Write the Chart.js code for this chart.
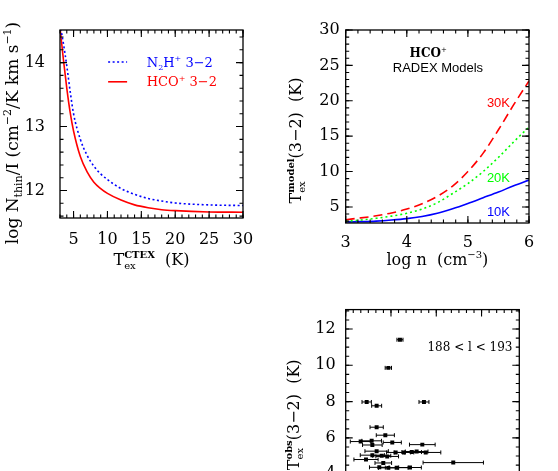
<!DOCTYPE html>
<html>
<head>
<meta charset="utf-8">
<script src="https://cdn.jsdelivr.net/npm/chart.js@4.4.1/dist/chart.umd.min.js"></script>
<style>
  html, body { margin: 0; padding: 0; background: #fff; }
  body { width: 558px; height: 471px; overflow: hidden; position: relative; }
  canvas { position: absolute; }
</style>
</head>
<body>
<canvas id="panelA" width="279" height="280" style="left:0;top:0"></canvas>
<canvas id="panelB" width="279" height="280" style="left:279px;top:0"></canvas>
<canvas id="panelC" width="279" height="250" style="left:279px;top:290px"></canvas>
<script>
// Panel A: N_thin/I against excitation temperature
const tempA = [3, 3.5, 4, 4.5, 5, 6, 7, 8, 9, 10, 12, 14, 16, 18, 20, 25, 30];
const n2hA  = [14.6, 14.3, 13.95, 13.55, 13.2, 12.8, 12.55, 12.38, 12.26, 12.17, 12.03, 11.94, 11.875, 11.835, 11.805, 11.775, 11.765];
const hcoA  = [14.55, 14.05, 13.6, 13.22, 12.93, 12.53, 12.29, 12.13, 12.03, 11.955, 11.85, 11.775, 11.73, 11.70, 11.685, 11.665, 11.66];
const xTicksA = [5, 10, 15, 20, 25, 30];
const yTicksA = [12, 13, 14];

// Panel B: RADEX model excitation temperatures
const lognB  = [3, 3.25, 3.5, 3.75, 4, 4.25, 4.5, 4.75, 5, 5.25, 5.5, 5.75, 6];
const tk30B  = [3.2, 3.45, 3.75, 4.15, 4.7, 5.45, 6.5, 7.95, 10.0, 12.6, 15.9, 19.45, 22.8];
const tk20B  = [2.97, 3.15, 3.4, 3.7, 4.1, 4.7, 5.6, 6.9, 8.3, 10.0, 12.0, 14.2, 16.3];
const tk10B  = [2.87, 2.92, 3.0, 3.15, 3.35, 3.65, 4.1, 4.75, 5.5, 6.3, 7.1, 8.0, 8.8];
const xTicksB = [3, 4, 5, 6];
const yTicksB = [5, 10, 15, 20, 25, 30];

// Panel C: observed excitation temperatures (x with error)
const obsX    = [7.19, 5.65, 2.78, 4.1, 10.37, 4.1, 5.25, 1.98, 3.44, 3.53, 6.17, 10.15, 4.1, 6.62, 7.72, 8.74, 9.4, 10.6, 3.53, 4.77, 5.5, 2.69, 4.98, 14.25, 4.45, 5.65, 6.75, 8.52];
const obsY    = [11.41, 9.86, 7.98, 7.77, 7.98, 6.59, 6.15, 5.80, 5.84, 5.61, 5.75, 5.63, 5.27, 5.2, 5.2, 5.22, 5.25, 5.2, 5.05, 5.02, 4.98, 4.81, 4.62, 4.64, 4.38, 4.35, 4.36, 4.37];
const obsXErr = [0.4, 0.42, 0.62, 0.66, 0.66, 0.88, 1.2, 1.37, 1.3, 1.3, 1.2, 1.7, 1.55, 1.2, 1.3, 1.3, 1.5, 2.0, 1.6, 1.2, 1.5, 1.6, 1.1, 4.0, 1.3, 1.3, 1.5, 1.5];
const yTicksC = [4, 6, 8, 10, 12];
const xTicksC = [0, 6, 12, 18];

const SERIF = 'DejaVu Serif';
const SANS = 'Liberation Sans';
Chart.defaults.font.family = SERIF;
Chart.defaults.color = '#000';

function toPoints(xs, ys) {
    return xs.map((x, i) => ({ x: x, y: ys[i] }));
}

// width of a piece of rich text (main text with optional sub/superscript)
function partWidth(ctx, p, size, fam) {
    ctx.font = (p.bold ? 'bold ' : '') + size + 'px ' + fam;
    let w = ctx.measureText(p.t || '').width;
    if (p.sub || p.sup) {
        const small = Math.round(size * 0.62);
        ctx.font = (p.supBold ? 'bold ' : '') + small + 'px ' + fam;
        const a = p.sup ? ctx.measureText(p.sup).width : 0;
        ctx.font = small + 'px ' + fam;
        const b = p.sub ? ctx.measureText(p.sub).width : 0;
        w += Math.max(a, b);
    }
    return w;
}

function drawRich(ctx, x0, y0, parts, size, fam, color, align, rot) {
    ctx.save();
    ctx.translate(x0, y0);
    if (rot) ctx.rotate(rot);
    ctx.fillStyle = color;
    ctx.textAlign = 'left';
    ctx.textBaseline = 'alphabetic';
    let total = 0;
    parts.forEach(p => { total += partWidth(ctx, p, size, fam); });
    let x = align === 'left' ? 0 : -total / 2;
    const base = size * 0.36;
    const small = Math.round(size * 0.62);
    parts.forEach(p => {
        ctx.font = (p.bold ? 'bold ' : '') + size + 'px ' + fam;
        ctx.fillText(p.t || '', x, base);
        const w = ctx.measureText(p.t || '').width;
        let sw = 0;
        if (p.sup) {
            ctx.font = (p.supBold ? 'bold ' : '') + small + 'px ' + fam;
            ctx.fillText(p.sup, x + w, base - size * 0.42);
            sw = Math.max(sw, ctx.measureText(p.sup).width);
        }
        if (p.sub) {
            ctx.font = small + 'px ' + fam;
            ctx.fillText(p.sub, x + w, base + size * 0.25);
            sw = Math.max(sw, ctx.measureText(p.sub).width);
        }
        x += w + sw;
    });
    ctx.restore();
}

// Frame with inward ticks on all four sides
const frameTicks = {
    id: 'frameTicks',
    afterDatasetsDraw(chart, args, opts) {
        const { ctx, chartArea: a, scales } = chart;
        ctx.save();
        ctx.strokeStyle = '#000';
        ctx.lineWidth = 1.3;
        ctx.strokeRect(a.left, a.top, a.right - a.left, a.bottom - a.top);
        ctx.lineWidth = 1.1;
        function mark(scale, step, len, horiz) {
            const first = Math.ceil(scale.min / step - 1e-6);
            for (let i = first; i * step <= scale.max + 1e-6; i++) {
                const p = scale.getPixelForValue(i * step);
                ctx.beginPath();
                if (horiz) {
                    ctx.moveTo(p, a.bottom); ctx.lineTo(p, a.bottom - len);
                    ctx.moveTo(p, a.top); ctx.lineTo(p, a.top + len);
                } else {
                    ctx.moveTo(a.left, p); ctx.lineTo(a.left + len, p);
                    ctx.moveTo(a.right, p); ctx.lineTo(a.right - len, p);
                }
                ctx.stroke();
            }
        }
        mark(scales.x, opts.xMinor, 3.5, true);
        mark(scales.x, opts.xMajor, 7, true);
        mark(scales.y, opts.yMinor, 3.5, false);
        mark(scales.y, opts.yMajor, 7, false);
        ctx.restore();
    }
};

// Axis titles and annotations
const labels = {
    id: 'labels',
    afterDraw(chart, args, opts) {
        const { ctx, chartArea: a, scales } = chart;
        const cx = (a.left + a.right) / 2;
        const cy = (a.top + a.bottom) / 2;
        if (opts.xTitle) drawRich(ctx, cx + opts.xTitle.dx, a.bottom + opts.xTitle.dy, opts.xTitle.parts, opts.xTitle.size, SERIF, '#000', 'center', 0);
        if (opts.yTitle) drawRich(ctx, opts.yTitle.x, cy + opts.yTitle.dy, opts.yTitle.parts, opts.yTitle.size, SERIF, '#000', 'center', -Math.PI / 2);
        (opts.notes || []).forEach(n => {
            drawRich(ctx, scales.x.getPixelForValue(n.x), scales.y.getPixelForValue(n.y), n.parts, n.size, n.fam, n.color, n.align || 'center', 0);
        });
        (opts.keys || []).forEach(k => {
            const y = scales.y.getPixelForValue(k.y);
            ctx.save();
            ctx.strokeStyle = k.color;
            ctx.lineWidth = 1.6;
            ctx.setLineDash(k.dash);
            ctx.beginPath();
            ctx.moveTo(scales.x.getPixelForValue(k.x0), y);
            ctx.lineTo(scales.x.getPixelForValue(k.x1), y);
            ctx.stroke();
            ctx.restore();
        });
    }
};

// Horizontal error bars for the observed points
const errorBars = {
    id: 'errorBars',
    beforeDatasetsDraw(chart) {
        const { ctx, scales: { x, y } } = chart;
        ctx.save();
        ctx.strokeStyle = '#000';
        ctx.lineWidth = 1;
        obsX.forEach((v, i) => {
            const py = y.getPixelForValue(obsY[i]);
            const p0 = x.getPixelForValue(v - obsXErr[i]);
            const p1 = x.getPixelForValue(v + obsXErr[i]);
            ctx.beginPath();
            ctx.moveTo(p0, py); ctx.lineTo(p1, py);
            ctx.moveTo(p0, py - 2); ctx.lineTo(p0, py + 2);
            ctx.moveTo(p1, py - 2); ctx.lineTo(p1, py + 2);
            ctx.stroke();
        });
        ctx.restore();
    }
};

function linearAxis(min, max, ticks, size, fit, pad, isX, show) {
    return {
        type: 'linear',
        min: min,
        max: max,
        grid: { display: false, drawTicks: false },
        border: { display: false },
        afterBuildTicks: s => { s.ticks = ticks.map(v => ({ value: v })); },
        afterFit: s => { if (isX) s.height = fit; else s.width = fit; },
        ticks: {
            display: show !== false,
            autoSkip: false,
            maxRotation: 0,
            padding: pad,
            font: { family: SERIF, size: size },
            color: '#000',
            callback: v => String(v)
        }
    };
}

function baseOptions(padding, scales, plugOpts) {
    return {
        responsive: false,
        animation: false,
        devicePixelRatio: 1,
        layout: { padding: padding },
        scales: scales,
        plugins: Object.assign({ legend: { display: false }, tooltip: { enabled: false } }, plugOpts)
    };
}

const lineStyle = (color, dash) => ({
    borderColor: color,
    borderWidth: 1.6,
    borderDash: dash,
    pointRadius: 0,
    fill: false,
    cubicInterpolationMode: 'monotone'
});

// Panel A
new Chart(document.getElementById('panelA'), {
    type: 'line',
    data: {
        datasets: [
            Object.assign({ data: toPoints(tempA, n2hA) }, lineStyle('#0000ff', [2, 2.5])),
            Object.assign({ data: toPoints(tempA, hcoA) }, lineStyle('#ff0000', []))
        ]
    },
    options: baseOptions({ left: 0, right: 36, top: 30, bottom: 22 }, {
        x: linearAxis(3, 30, xTicksA, 16, 40, 12, true),
        y: linearAxis(11.57, 14.51, yTicksA, 16, 60, 15, false)
    }, {
        frameTicks: { xMajor: 5, xMinor: 1, yMajor: 1, yMinor: 0.2 },
        labels: {
            xTitle: { dx: 0, dy: 41, size: 16, parts: [{ t: 'T', sub: 'ex', sup: 'CTEX', supBold: true }, { t: '  (K)' }] },
            yTitle: { x: 12, dy: 9, size: 17, parts: [{ t: 'log N', sub: 'thin' }, { t: '/I (cm', sup: '−2' }, { t: '/K km s', sup: '−1' }, { t: ')' }] },
            keys: [
                { x0: 10.1, x1: 12.9, y: 14.01, color: '#0000ff', dash: [2, 2.5] },
                { x0: 10.1, x1: 12.9, y: 13.70, color: '#ff0000', dash: [] }
            ],
            notes: [
                { x: 15.8, y: 14.01, size: 13, fam: SERIF, color: '#0000ff', align: 'left', parts: [{ t: 'N', sub: '2' }, { t: 'H', sup: '+' }, { t: ' 3−2' }] },
                { x: 15.8, y: 13.70, size: 13, fam: SERIF, color: '#ff0000', align: 'left', parts: [{ t: 'HCO', sup: '+' }, { t: ' 3−2' }] }
            ]
        }
    }),
    plugins: [frameTicks, labels]
});

// Panel B
new Chart(document.getElementById('panelB'), {
    type: 'line',
    data: {
        datasets: [
            Object.assign({ data: toPoints(lognB, tk30B) }, lineStyle('#ff0000', [9, 5])),
            Object.assign({ data: toPoints(lognB, tk20B) }, lineStyle('#00ff00', [2, 3])),
            Object.assign({ data: toPoints(lognB, tk10B) }, lineStyle('#0000ff', []))
        ]
    },
    options: baseOptions({ left: 0, right: 29, top: 30, bottom: 17 }, {
        x: linearAxis(3, 6, xTicksB, 16, 40, 10, true),
        y: linearAxis(2.73, 30, yTicksB, 16, 66.7, 6, false)
    }, {
        frameTicks: { xMajor: 1, xMinor: 0.2, yMajor: 5, yMinor: 1 },
        labels: {
            xTitle: { dx: 0, dy: 36, size: 16, parts: [{ t: 'log n  (cm', sup: '−3' }, { t: ')' }] },
            yTitle: { x: 16, dy: 14, size: 16, parts: [{ t: 'T', sub: 'ex', sup: 'model', supBold: true }, { t: '(3−2)  (K)' }] },
            notes: [
                { x: 4.35, y: 26.8, size: 12, fam: SERIF, color: '#000', parts: [{ t: 'HCO', sup: '+', bold: true }] },
                { x: 4.51, y: 24.7, size: 13, fam: SANS, color: '#000', parts: [{ t: 'RADEX Models' }] },
                { x: 5.5, y: 19.85, size: 13, fam: SANS, color: '#ff0000', parts: [{ t: '30K' }] },
                { x: 5.5, y: 9.2, size: 13, fam: SANS, color: '#00ff00', parts: [{ t: '20K' }] },
                { x: 5.5, y: 4.45, size: 13, fam: SANS, color: '#0000ff', parts: [{ t: '10K' }] }
            ]
        }
    }),
    plugins: [frameTicks, labels]
});

// Panel C
new Chart(document.getElementById('panelC'), {
    type: 'scatter',
    data: {
        datasets: [{
            data: toPoints(obsX, obsY),
            pointStyle: 'rect',
            pointRadius: 2.8,
            backgroundColor: '#000',
            borderColor: '#000',
            borderWidth: 0
        }]
    },
    options: baseOptions({ left: 0, right: 38.7, top: 15, bottom: 14 }, {
        x: linearAxis(0, 23, xTicksC, 16, 30, 10, true, false),
        y: linearAxis(2.8, 13.07, yTicksC, 16, 66.7, 10, false)
    }, {
        frameTicks: { xMajor: 6, xMinor: 1, yMajor: 2, yMinor: 0.5 },
        labels: {
            yTitle: { x: 14, dy: 12, size: 16, parts: [{ t: 'T', sub: 'ex', sup: 'obs', supBold: true }, { t: '(3−2)  (K)' }] },
            notes: [
                { x: 16.46, y: 11.04, size: 12, fam: SERIF, color: '#000', parts: [{ t: '188 < l < 193' }] }
            ]
        }
    }),
    plugins: [errorBars, frameTicks, labels]
});
</script>
</body>
</html>
